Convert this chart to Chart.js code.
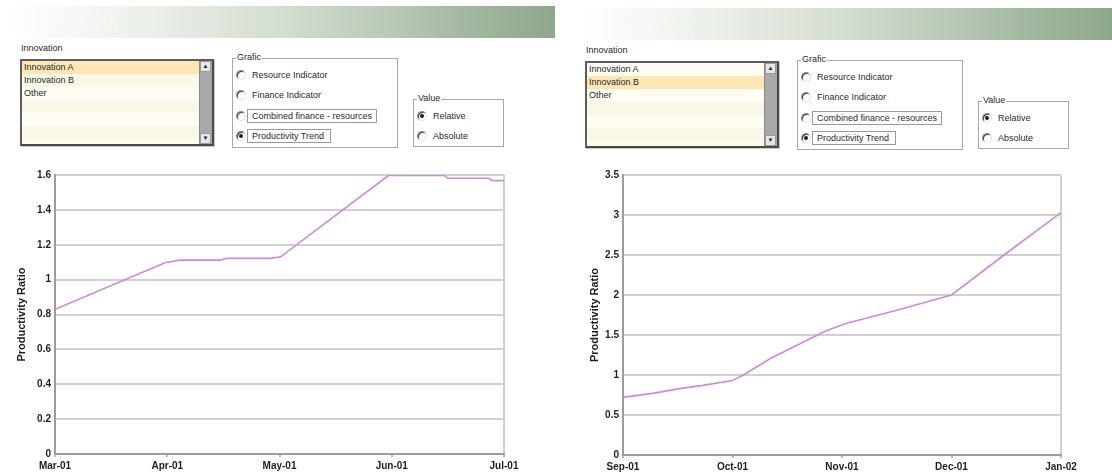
<!DOCTYPE html>
<html>
<head>
<meta charset="utf-8">
<script src="https://cdn.jsdelivr.net/npm/chart.js@4.4.1/dist/chart.umd.min.js"></script>
<style>
  html, body { margin: 0; padding: 0; }
  body { width: 1112px; height: 473px; position: relative; overflow: hidden; background: #ffffff;
         font-family: Arial, "Liberation Sans", sans-serif; }
  .abs { position: absolute; box-sizing: border-box; }
  .band { background: linear-gradient(90deg, #ffffff 0%, #eef2ec 22%, #d6dfd3 48%, #b9c9b6 70%, #a0b59d 86%, #8ea88b 100%); }
  .band .waves { position: absolute; right: 0; top: 0; bottom: 0; width: 22%;
         background: repeating-linear-gradient(125deg, rgba(255,255,255,0) 0px, rgba(255,255,255,0) 5px, rgba(255,255,255,0.22) 6px, rgba(255,255,255,0) 8px);
         -webkit-mask-image: linear-gradient(90deg, transparent, #000 60%); mask-image: linear-gradient(90deg, transparent, #000 60%); }
  .txt { font-size: 9px; color: #2a2a2a; white-space: nowrap; line-height: 11px; }
  .list { border: 2px solid #5e5e5e; border-right-color: #4a4a4a; border-bottom-color: #4a4a4a;
          box-shadow: 1px 1px 0 #c9c9c9; background: #fdfaee; overflow: hidden; }
  .row { position: absolute; left: 0; right: 13px; height: 13px; padding-left: 2px; font-size: 9px; line-height: 13px; color: #2a2a2a; }
  .sb { position: absolute; right: 0; top: 0; bottom: 0; width: 12px; background: #a8a8a8; border-left: 1px solid #8a8a8a; }
  .sbbtn { position: absolute; left: 0; width: 11px; height: 11px; background: #e6e6e6; border: 1px solid #9a9a9a; box-sizing: border-box;
           font-size: 6px; line-height: 9px; text-align: center; color: #222; }
  .grp { border: 1px solid #a9a9a9; box-shadow: inset 1px 1px 0 #ffffff; }
  .legend { background: #fff; padding: 0 1px; }
  .radio { width: 10px; height: 10px; border-radius: 50%; background: #fff;
           border: 1px solid #8c8c8c; border-right-color: #e0e0e0; border-bottom-color: #e0e0e0;
           box-shadow: inset 1px 1px 0 #404040; }
  .radio.on::after { content: ""; position: absolute; left: 2px; top: 2px; width: 4px; height: 4px; border-radius: 50%; background: #1e1e1e; }
  .frame { border: 1px solid #9a9a9a; }
  canvas { position: absolute; }
</style>
</head>
<body>
<canvas id="chartA" width="560" height="313" style="left:0px;top:160px"></canvas>
<canvas id="chartB" width="547" height="313" style="left:565px;top:160px"></canvas>
<script>
// ---- series data ------------------------------------------------------
// x positions are measured in months from the first labelled month
const monthsA = ['Mar-01', 'Apr-01', 'May-01', 'Jun-01', 'Jul-01'];
const posA    = [0, 0.98, 1.11, 1.47, 1.53, 1.92, 2.01, 2.97, 3.47, 3.50, 3.86, 3.90, 4.0];
const ratioA  = [0.83, 1.097, 1.112, 1.112, 1.122, 1.122, 1.131, 1.597, 1.597, 1.581, 1.581, 1.568, 1.568];

const monthsB = ['Sep-01', 'Oct-01', 'Nov-01', 'Dec-01', 'Jan-02'];
const posB    = [0, 0.27, 0.52, 0.73, 1.0, 1.1, 1.35, 1.85, 2.05, 2.5, 3.0, 3.48, 4.0];
const ratioB  = [0.72, 0.77, 0.83, 0.87, 0.93, 1.0, 1.21, 1.55, 1.65, 1.81, 2.0, 2.5, 3.03];

// ---- form controls above each chart ----------------------------------
const innovationItems = ['Innovation A', 'Innovation B', 'Other'];
const graficOptions   = ['Resource Indicator', 'Finance Indicator', 'Combined finance - resources', 'Productivity Trend'];
const valueOptions    = ['Relative', 'Absolute'];

function add(cls, x, y, w, h, text, parent) {
  const d = document.createElement('div');
  d.className = 'abs ' + cls;
  d.style.left = x + 'px'; d.style.top = y + 'px';
  if (w != null) d.style.width = w + 'px';
  if (h != null) d.style.height = h + 'px';
  if (text != null) d.textContent = text;
  (parent || document.body).appendChild(d);
  return d;
}

function buildPanel(band, dx, dy, selected) {
  const b = add('band', band.x, band.y, band.w, band.h);
  add('waves', 0, 0, null, null, null, b).style.position = 'absolute';

  add('txt', 21 + dx, 43 + dy, null, null, 'Innovation');

  const list = add('list', 20 + dx, 59 + dy, 194, 87);
  const rowShades = ['#fefcf3', '#fbf7e7'];
  for (let i = 0; i < 6; i++) {
    const r = document.createElement('div');
    r.className = 'row';
    r.style.top = (i * 13) + 'px';
    r.style.background = i === selected ? '#fde6b4' : rowShades[i % 2];
    if (i < innovationItems.length) r.textContent = innovationItems[i];
    list.appendChild(r);
  }
  const sb = document.createElement('div'); sb.className = 'sb'; list.appendChild(sb);
  const up = document.createElement('div'); up.className = 'sbbtn'; up.style.top = '0px'; up.textContent = '\u25B2'; sb.appendChild(up);
  const dn = document.createElement('div'); dn.className = 'sbbtn'; dn.style.bottom = '0px'; dn.textContent = '\u25BC'; sb.appendChild(dn);

  // "Grafic" group
  add('grp', 232 + dx, 58 + dy, 166, 90);
  add('txt legend', 236 + dx, 52 + dy, null, null, 'Grafic');
  const gy = [70, 90, 111, 131];
  graficOptions.forEach((t, i) => {
    const r = add('radio' + (i === 3 ? ' on' : ''), 236 + dx, gy[i] + dy, 10, 10);
    if (i >= 2) add('frame', 247 + dx, gy[i] - 2 + dy, i === 2 ? 130 : 84, 14);
    add('txt', 252 + dx, gy[i] + dy, null, null, t);
  });

  // "Value" group
  add('grp', 413 + dx, 99 + dy, 91, 48);
  add('txt legend', 417 + dx, 93 + dy, null, null, 'Value');
  const vy = [111, 131];
  valueOptions.forEach((t, i) => {
    add('radio' + (i === 0 ? ' on' : ''), 417 + dx, vy[i] + dy, 10, 10);
    add('txt', 433 + dx, vy[i] + dy, null, null, t);
  });
}

buildPanel({ x: 7, y: 6, w: 548, h: 32 }, 0, 0, 0);
buildPanel({ x: 577, y: 8, w: 535, h: 32 }, 565, 2, 1);

// ---- charts ----------------------------------------------------------
const FONT = 'Arial, "Liberation Sans", sans-serif';
const AXIS = '#9c9c9c';
const GRID = '#d0d0d0';
const LINE = '#cf89d9';

function lineChart(id, months, pos, ratio, yMax, yStep, axisWidth, axisHeight, titleGap, rightPad) {
  const points = pos.map((p, i) => ({ x: p, y: ratio[i] }));
  const last = months.length - 1;
  return new Chart(document.getElementById(id), {
    type: 'line',
    data: { datasets: [{ data: points, borderColor: LINE, borderWidth: 1.6, pointRadius: 0, tension: 0, fill: false }] },
    options: {
      responsive: false,
      animation: false,
      events: [],
      layout: { padding: { left: 0, top: 15, right: rightPad, bottom: 0 } },
      plugins: { legend: { display: false }, tooltip: { enabled: false } },
      scales: {
        x: {
          type: 'linear', min: 0, max: last,
          afterFit: s => { s.height = axisHeight; },
          afterBuildTicks: s => { s.ticks = months.map((m, i) => ({ value: i })); },
          ticks: { callback: v => months[v], color: '#1e1e1e', font: { family: FONT, size: 10, weight: 'bold' }, padding: 3, maxRotation: 0, autoSkip: false },
          grid: { color: c => (c.tick && c.tick.value === last ? GRID : 'rgba(0,0,0,0)'), lineWidth: 2, tickColor: '#7a7a7a', tickLength: 3, tickWidth: 1 },
          border: { color: AXIS, width: 2 }
        },
        y: {
          min: 0, max: yMax,
          afterFit: s => { s.width = axisWidth; },
          ticks: { stepSize: yStep, callback: v => String(Math.round(v * 10) / 10), color: '#1e1e1e', font: { family: FONT, size: 10, weight: 'bold' }, padding: 4 },
          grid: { color: GRID, lineWidth: 2, drawTicks: false },
          border: { color: AXIS, width: 2 },
          title: { display: true, text: 'Productivity Ratio', color: '#1e1e1e', font: { family: FONT, size: 11, weight: 'bold' }, padding: { top: titleGap, bottom: 0 } }
        }
      }
    }
  });
}

lineChart('chartA', monthsA, posA, ratioA, 1.6, 0.2, 55, 19, 15, 56);
lineChart('chartB', monthsB, posB, ratioB, 3.5, 0.5, 58, 18, 23, 51);
</script>
</body>
</html>
